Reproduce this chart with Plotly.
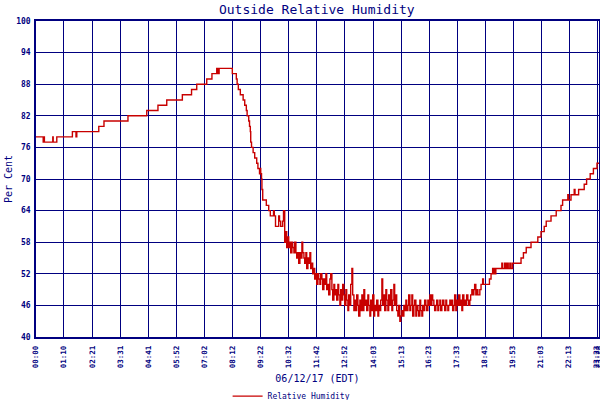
import plotly.graph_objects as go

# minutes after midnight and relative humidity (%)
morning_min = [0, 18, 20, 21, 42, 43, 52, 91, 100, 102, 157, 170, 230, 277, 305,
               327, 366, 389, 402, 427, 440, 452, 455, 458, 491]
morning_val = [78, 77, 78, 77, 78, 77, 78, 79, 78, 79, 80, 81, 82, 83, 84,
               85, 86, 87, 88, 89, 90, 91, 90, 91, 90]

drop_min = [501, 503, 506, 511, 518, 522, 526, 528, 532, 534, 536, 537, 539, 543, 547,
            552, 555, 559, 561, 562, 564, 565, 567, 576, 582, 586, 594, 596, 599, 607,
            609, 612, 617, 619]
drop_val = [89, 88, 87, 86, 85, 84, 83, 82, 81, 80, 79, 77, 76, 75, 74,
            73, 72, 71, 72, 71, 70, 68, 66, 65, 64, 63, 64, 63, 61, 63,
            62, 61, 62, 64]

noisy_min = [622, 625, 627, 630, 632, 635, 637, 640, 642, 645, 647, 650, 652, 655, 657,
             660, 662, 665, 667, 670, 672, 675, 677, 680, 682, 685, 687, 690, 692, 695,
             697, 700, 702, 705, 707, 710, 712, 715, 717, 720, 722, 725, 727, 730, 732,
             735, 737, 740, 742, 745, 747, 750, 752, 755, 757, 760, 762, 765, 767, 770,
             772, 775, 777, 780, 782, 785, 787, 790, 792, 795, 797, 800, 802, 805, 807,
             810, 812, 815, 817, 820, 822, 825, 827, 830, 832, 835, 837, 840, 842, 845,
             847, 850, 852, 855, 857, 860, 862, 865, 867, 870, 872, 875, 877, 880, 882,
             885, 887, 890, 892, 895, 897, 900, 902, 905, 907, 910, 912, 915, 917, 920,
             922, 925, 927, 930, 932, 935, 937, 940, 942, 945, 947, 950, 952, 955, 957,
             960, 962, 965, 967, 970, 972, 975, 977, 980, 982, 985, 987, 990, 992, 995,
             997, 1000, 1002, 1005, 1007, 1010, 1012, 1015, 1017, 1020, 1022, 1025, 1027, 1030, 1032,
             1035, 1037, 1040, 1042, 1045, 1047, 1050, 1052, 1055, 1057, 1060, 1062, 1065, 1067, 1070,
             1072, 1075, 1077, 1080, 1082, 1085, 1087, 1090, 1092, 1095, 1097, 1100, 1102, 1105, 1110]
noisy_val = [58, 60, 57, 59, 57, 58, 56, 58, 57, 56, 58, 56, 55, 56, 54,
             56, 55, 58, 56, 55, 54, 56, 53, 55, 54, 56, 53, 54, 52, 53,
             51, 52, 50, 52, 51, 50, 52, 51, 49, 51, 50, 52, 49, 50, 48,
             51, 52, 49, 47, 50, 48, 49, 47, 50, 48, 46, 49, 47, 50, 48,
             46, 49, 47, 45, 48, 46, 50, 53, 48, 45, 47, 45, 48, 46, 44,
             47, 45, 48, 45, 49, 46, 47, 45, 48, 46, 44, 47, 45, 48, 44,
             46, 45, 47, 44, 46, 45, 47, 51, 46, 48, 45, 49, 47, 45, 48,
             46, 49, 45, 47, 50, 46, 48, 45, 44, 46, 43, 44, 45, 44, 46,
             45, 47, 45, 46, 48, 45, 46, 48, 44, 46, 47, 44, 46, 45, 44,
             47, 45, 44, 46, 45, 47, 46, 45, 47, 46, 48, 46, 48, 47, 46,
             45, 46, 47, 45, 46, 47, 45, 46, 47, 46, 45, 47, 46, 45, 46,
             47, 46, 47, 45, 46, 48, 45, 47, 46, 48, 46, 47, 45, 48, 46,
             47, 46, 48, 47, 46, 47, 48, 49, 48, 49, 50, 48, 49, 48, 49]

evening_min = [1113, 1117, 1119, 1134, 1138, 1142, 1144, 1146, 1148, 1150, 1165, 1167, 1172, 1175, 1178,
               1181, 1185, 1188, 1192, 1213, 1219, 1226, 1238, 1255, 1263, 1271, 1276, 1288, 1301, 1313,
               1317, 1330, 1332, 1338, 1346, 1348, 1357, 1371, 1377, 1386, 1394, 1403, 1408]
evening_val = [50, 51, 50, 51, 52, 53, 52, 53, 52, 53, 54, 53, 54, 53, 54,
               53, 54, 53, 54, 55, 56, 57, 58, 59, 60, 61, 62, 63, 64, 65,
               66, 67, 66, 67, 68, 67, 68, 69, 70, 71, 72, 73, 73]

tick_min = [0, 70, 141, 211, 281, 352, 422, 492, 562, 632, 702, 772, 843, 913,
            983, 1053, 1123, 1193, 1263, 1333, 1403, 1406]
tick_labels = ['00:00', '01:10', '02:21', '03:31', '04:41', '05:52', '07:02', '08:12',
               '09:22', '10:32', '11:42', '12:52', '14:03', '15:13', '16:23', '17:33',
               '18:43', '19:53', '21:03', '22:13', '23:23', '23:28']

minutes = morning_min + drop_min + noisy_min + evening_min
humidity = morning_val + drop_val + noisy_val + evening_val

navy = '#000080'
mono = 'DejaVu Sans Mono'

fig = go.Figure()
fig.add_trace(go.Scatter(x=minutes, y=humidity, mode='lines', name='Relative Humidity',
                         line=dict(color='#c80000', width=1.4, shape='hv')))

# the page is photographed a little squashed vertically, so the figure is 412 tall
fig.update_layout(
    width=600, height=412,
    margin=dict(l=36, r=1, t=21, b=66),
    paper_bgcolor='white', plot_bgcolor='white',
    title=dict(text='Outside Relative Humidity', x=0.528, xanchor='center',
               y=0.9775, yanchor='middle', font=dict(family=mono, size=13, color=navy)),
    showlegend=True,
    legend=dict(orientation='h', x=0.454, xanchor='center', y=-0.187, yanchor='middle',
                font=dict(family=mono, size=8, color=navy), itemwidth=30),
)
fig.update_xaxes(range=[0, 1408], tickvals=tick_min, ticktext=tick_labels, tickangle=-90,
                 tickfont=dict(family=mono, size=7.5, color=navy, weight='bold'),
                 ticklabeloverflow='allow',
                 showgrid=True, gridcolor=navy, gridwidth=1,
                 showline=True, linecolor=navy, linewidth=1.5, mirror=True,
                 ticks='', zeroline=False, automargin=False, ticklabelstandoff=4,
                 title=dict(text='06/12/17 (EDT)', standoff=8,
                            font=dict(family=mono, size=10, color=navy)))
fig.update_yaxes(range=[40, 100], dtick=6, tick0=40,
                 tickfont=dict(family=mono, size=8, color=navy, weight='bold'),
                 showgrid=True, gridcolor=navy, gridwidth=1,
                 showline=True, linecolor=navy, linewidth=1.5, mirror=True,
                 ticks='', zeroline=False, automargin=False, ticklabelstandoff=2,
                 title=dict(text='Per Cent', standoff=2,
                            font=dict(family=mono, size=10, color=navy)))

# pin the page to the figure (no default body margin, no spill-over)
page_css = ("for (const el of [document.documentElement, document.body]) {"
            "el.style.margin='0'; el.style.padding='0'; el.style.height='412px';"
            "el.style.overflow='hidden'; }")
fig.write_html('out.html', config={'displayModeBar': False}, post_script=page_css)
